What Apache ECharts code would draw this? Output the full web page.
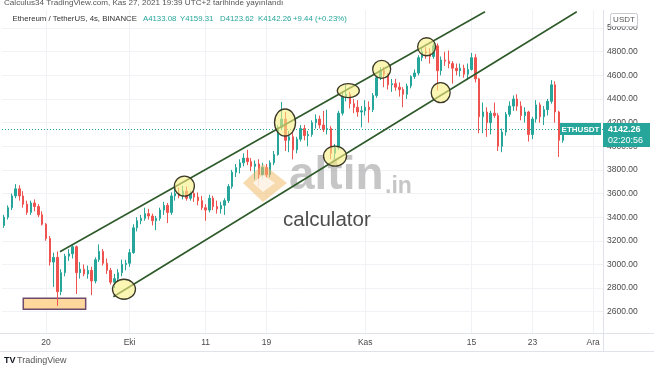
<!DOCTYPE html>
<html><head><meta charset="utf-8">
<script src="https://cdn.jsdelivr.net/npm/echarts@6/dist/echarts.min.js"></script>
<style>html,body{margin:0;padding:0;background:#fff;overflow:hidden}#c{width:654px;height:366px}</style>
</head><body><div id="c"></div>
<script>
// ---- data (12h candles, ETH/USDT) ----
const startTimeUTC = Date.UTC(2021, 8, 14, 12); // first candle open
const stepHours = 12;
const opens = [3330,
 3400,3480, 3580,3640, 3580,3510, 3440,3520, 3490,3420, 3340,3220, 3020,3060, 2770,2930, 3070,3090, 3150,2930, 2960,2920, 2950,2860, 3040,3110, 3010,2950, 2850,2880, 2930,3000,
 3010,3100, 3310,3370, 3390,3430, 3410,3370, 3390,3460, 3500,3440, 3580,3600, 3580,3620, 3560,3600, 3570,3540, 3480,3460, 3560,3490, 3470,3500, 3540,3660, 3780,3820, 3860,3900, 3870,3830, 3850,3760, 3820,3760, 3860,3930, 4160,4230, 4050,4080, 3970,4060, 4150,4090, 4100,4200, 4230,4180, 4140,4150, 3940,3990, 4280,4420, 4440,4360, 4330,4290,
 4300,4330, 4310,4430, 4580,4640, 4610,4520, 4530,4500, 4480,4440, 4510,4590, 4620,4750, 4800,4790, 4760,4850, 4640,4730, 4720,4700, 4660,4640, 4660,4610, 4650,4750, 4570,4250, 4290,4200, 4280,4260, 4000,4120, 4270,4340, 4400,4340, 4260,4290, 4100,4230, 4350,4250, 4310,4380, 4520,4290, 4050];
const closes = [3400,
 3480,3580, 3640,3580, 3510,3440, 3520,3490, 3420,3340, 3220,3020, 3060,2770, 2930,3070, 3090,3150, 2930,2960, 2920,2950, 2860,3040, 3110,3010, 2950,2850, 2880,2930, 3000,3010,
 3100,3310, 3370,3390, 3430,3410, 3370,3390, 3460,3500, 3440,3580, 3600,3580, 3620,3560, 3600,3570, 3540,3480, 3460,3560, 3490,3470, 3500,3540, 3660,3780, 3820,3860, 3900,3870, 3830,3850, 3760,3820, 3760,3860, 3930,4160, 4230,4050, 4080,3970, 4060,4150, 4090,4100, 4200,4230, 4180,4140, 4150,3940, 3990,4280, 4420,4440, 4360,4330, 4290,4300,
 4330,4310, 4430,4580, 4640,4610, 4520,4530, 4500,4480, 4440,4510, 4590,4620, 4750,4800, 4790,4760, 4850,4640, 4730,4720, 4700,4660, 4640,4660, 4610,4650, 4750,4570, 4250,4290, 4200,4280, 4260,4000, 4120,4270, 4340,4400, 4340,4260, 4290,4100, 4230,4350, 4250,4310, 4380,4520, 4290,4050, 4142.26];
const lows = [3310,
 3380,3460, 3560,3540, 3480,3420, 3420,3450, 3400,3330, 3200,2990, 2810,2650, 2740,2900, 3030,3050, 2750,2880, 2900,2880, 2740,2840, 3020,2990, 2920,2830, 2800,2850, 2900,2950,
 2980,3090, 3280,3340, 3370,3380, 3330,3290, 3370,3420, 3350,3420, 3540,3560, 3550,3540, 3540,3530, 3500,3460, 3370,3440, 3460,3430, 3430,3420, 3520,3640, 3740,3770, 3830,3840, 3790,3720, 3660,3720, 3730,3740, 3840,3920, 4140,3960, 3950,3890, 3940,4040, 4050,4000, 4080,4150, 4150,4120, 4100,3890, 3890,3970, 4260,4380, 4320,4280, 4250,4160,
 4260,4200, 4290,4410, 4560,4500, 4480,4460, 4470,4420, 4330,4400, 4490,4570, 4600,4720, 4740,4700, 4740,4470, 4600,4680, 4660,4530, 4600,4590, 4580,4560, 4640,4540, 4110,4110, 4080,4100, 4240,3960, 3950,4090, 4250,4300, 4300,4220, 4200,4040, 4060,4200, 4200,4180, 4260,4360, 4200,3910, 4030];
const highs = [3420,
 3500,3600, 3680,3670, 3620,3540, 3540,3550, 3510,3450, 3350,3240, 3100,3110, 2960,3090, 3130,3170, 3160,3020, 3000,2990, 2980,3060, 3170,3130, 3050,2970, 2920,2960, 3040,3040,
 3130,3340, 3400,3420, 3480,3470, 3430,3410, 3480,3530, 3520,3610, 3640,3650, 3665,3660, 3620,3620, 3610,3580, 3510,3590, 3580,3540, 3530,3560, 3680,3800, 3850,3890, 3940,3970, 3900,3880, 3890,3860, 3850,3880, 3960,4180, 4375,4290, 4130,4120, 4080,4180, 4180,4130, 4220,4270, 4260,4300, 4310,4170, 4020,4300, 4450,4520, 4460,4400, 4390,4340,
 4390,4380, 4450,4600, 4670,4670, 4620,4570, 4570,4540, 4500,4530, 4600,4650, 4770,4830, 4840,4830, 4870,4870, 4760,4800, 4810,4720, 4700,4700, 4690,4700, 4790,4780, 4580,4370, 4330,4300, 4370,4280, 4150,4290, 4380,4430, 4440,4380, 4330,4300, 4250,4390, 4370,4340, 4400,4560, 4550,4300, 4170];

const priceTicks = [2600,2800,3000,3200,3400,3600,3800,4000,4200,4400,4600,4800,5000];
const dateTicks = ['2021-09-20','2021-10-01','2021-10-11','2021-10-19','2021-11-01','2021-11-15','2021-11-23','2021-12-01'];
const dateLabels = ['20','Eki','11','19','Kas','15','23','Ara'];
const lastPrice = 4142.26;
const countdown = '02:20:56';
const symbolName = 'ETHUSDT';
// drawn annotations (time, price)
const upperChannel = [['2021-09-21T20:00:00Z', 3108], ['2021-11-16T18:15:00Z', 5138]];
const lowerChannel = [['2021-09-28T20:40:00Z', 2727], ['2021-11-28T20:00:00Z', 5138]];
const circleCenters = [['2021-09-30T06:15:00Z',2790],['2021-10-08T05:00:00Z',3663],['2021-10-21T10:50:00Z',4201],['2021-10-28T00:45:00Z',3917],['2021-10-29T18:40:00Z',4470],['2021-11-03T04:00:00Z',4651],['2021-11-09T02:00:00Z',4842],['2021-11-10T22:20:00Z',4454]];
const circleRadii = [[11.5,10],[10,10],[10.5,13.5],[11.5,10],[11,7],[9,9],[9,9],[9.5,10]];
const supportBox = [['2021-09-17T00:15:00Z', 2713], ['2021-09-25T05:15:00Z', 2620]];

// ---- build ----
const DAY = 86400000;
const ts = s => new Date(s).getTime();
const candles = opens.map((o, i) => [startTimeUTC + i * stepHours * 3600000, o, closes[i], lows[i], highs[i]]);
const dateTickMs = dateTicks.map(d => ts(d + 'T00:00:00Z'));
const sep20 = ts('2021-09-20T00:00:00Z');
const xMin = sep20 - (44 / 7.6) * DAY;
const xMax = sep20 + (557 / 7.6) * DAY;

const FONT = '"Liberation Sans", Arial, sans-serif';
const chart = echarts.init(document.getElementById('c'), null, {renderer: 'canvas'});
chart.setOption({
  animation: false,
  backgroundColor: '#ffffff',
  grid: {left: 2, right: 51, top: 10, bottom: 33},
  xAxis: {
    type: 'value', min: xMin, max: xMax, scale: true,
    axisLine: {show: false},
    axisTick: {show: false, customValues: dateTickMs},
    axisLabel: {customValues: dateTickMs, color: '#4a4a4a', fontSize: 8.5, fontFamily: FONT, margin: 5,
      formatter: v => { const i = dateTickMs.indexOf(v); return i >= 0 ? dateLabels[i] : ''; }},
    splitLine: {show: true, lineStyle: {color: '#f0f2f6', width: 1}}
  },
  yAxis: {
    type: 'value', position: 'right', min: 2420, max: 5153, scale: true,
    axisLine: {show: false},
    axisTick: {show: false, customValues: priceTicks},
    axisLabel: {customValues: priceTicks, color: '#4a4a4a', fontSize: 8.5, fontFamily: FONT, margin: 4,
      formatter: v => v.toFixed(2)},
    splitLine: {show: true, lineStyle: {color: '#f0f2f6', width: 1}}
  },
  series: [{
    type: 'candlestick',
    data: candles,
    encode: {x: 0, y: [1, 2, 3, 4]},
    barWidth: 2,
    itemStyle: {color: '#26a69a', color0: '#ef5350', borderColor: '#26a69a', borderColor0: '#ef5350', borderWidth: 1},
    markArea: {
      silent: true,
      itemStyle: {color: '#fdd79b', borderColor: '#6d4b6d', borderWidth: 1.5},
      data: [[{coord: [ts(supportBox[0][0]), supportBox[0][1]]}, {coord: [ts(supportBox[1][0]), supportBox[1][1]]}]]
    },
    markLine: {
      silent: true, symbol: ['none', 'none'], label: {show: false},
      data: [
        {yAxis: lastPrice, lineStyle: {type: [1, 2], color: '#26a69a', width: 1}},
        [{coord: [ts(upperChannel[0][0]), upperChannel[0][1]], lineStyle: {type: 'solid', color: '#2e5a2a', width: 1.6}},
         {coord: [ts(upperChannel[1][0]), upperChannel[1][1]]}],
        [{coord: [ts(lowerChannel[0][0]), lowerChannel[0][1]], lineStyle: {type: 'solid', color: '#2e5a2a', width: 1.6}},
         {coord: [ts(lowerChannel[1][0]), lowerChannel[1][1]]}]
      ]
    }
  }]
});

// ---- overlay graphics positioned from data ----
const g = [];
circleCenters.forEach((c, i) => {
  const p = chart.convertToPixel({gridIndex: 0}, [ts(c[0]), c[1]]);
  g.push({type: 'ellipse', z: 20, shape: {cx: p[0], cy: p[1], rx: circleRadii[i][0], ry: circleRadii[i][1]},
    style: {fill: 'rgba(250,240,130,0.6)', stroke: '#3b3a28', lineWidth: 1.3}});
});
const py = chart.convertToPixel({gridIndex: 0}, [xMin, lastPrice])[1];
g.push({type: 'rect', z: 30, shape: {x: 560, y: py - 6.5, width: 41, height: 12}, style: {fill: '#26a69a'}});
g.push({type: 'text', z: 31, x: 580.5, y: py, style: {text: symbolName, fill: '#fff', font: 'bold 8px ' + FONT, align: 'center', verticalAlign: 'middle'}});
g.push({type: 'rect', z: 30, shape: {x: 603, y: py - 6.5, width: 47, height: 24}, style: {fill: '#26a69a'}});
g.push({type: 'text', z: 31, x: 608, y: py, style: {text: lastPrice.toFixed(2), fill: '#fff', font: 'bold 9px ' + FONT, align: 'left', verticalAlign: 'middle'}});
g.push({type: 'text', z: 31, x: 608, y: py + 11, style: {text: countdown, fill: '#fff', font: '9px ' + FONT, align: 'left', verticalAlign: 'middle'}});

// frame lines
g.push({type: 'line', z: 5, shape: {x1: 0, y1: 333.5, x2: 654, y2: 333.5}, style: {stroke: '#dfe2e8', lineWidth: 1}});
g.push({type: 'line', z: 5, shape: {x1: 0, y1: 351.5, x2: 654, y2: 351.5}, style: {stroke: '#dfe2e8', lineWidth: 1}});
g.push({type: 'line', z: 5, shape: {x1: 603.5, y1: 10, x2: 603.5, y2: 352}, style: {stroke: '#dfe2e8', lineWidth: 1}});

// header
g.push({type: 'text', z: 40, x: 4, y: 2.5, style: {text: 'Calculus34 TradingView.com, Kas 27, 2021 19:39 UTC+2 tarihinde yayınlandı', fill: '#555', font: '8.1px ' + FONT, verticalAlign: 'middle'}});
const hdr = [['Ethereum / TetherUS, 4s, BINANCE', 12.5, '#333'], ['A4133.08', 143, '#26a69a'], ['Y4159.31', 180, '#26a69a'], ['D4123.62', 220, '#26a69a'], ['K4142.26', 258, '#26a69a'], ['+9.44 (+0.23%)', 293, '#26a69a']];
hdr.forEach(h => g.push({type: 'text', z: 40, x: h[1], y: 19, style: {text: h[0], fill: h[2], font: '7.8px ' + FONT, verticalAlign: 'middle'}}));

// USDT box
g.push({type: 'rect', z: 40, shape: {x: 610.5, y: 13.5, width: 27, height: 13, r: 2}, style: {fill: '#fff', stroke: '#c8cad0', lineWidth: 1}});
g.push({type: 'text', z: 41, x: 624, y: 20, style: {text: 'USDT', fill: '#555', font: '8px ' + FONT, align: 'center', verticalAlign: 'middle'}});

// watermark
g.push({type: 'polygon', z: 3, shape: {points: [[263, 164], [287, 183], [263, 202], [243, 183]]}, style: {fill: 'rgba(240,190,110,0.55)'}});
g.push({type: 'polygon', z: 3, shape: {points: [[263, 175], [275, 183], [263, 192], [253, 183]]}, style: {fill: 'rgba(255,255,255,0.7)'}});
g.push({type: 'text', z: 3, x: 289, y: 199, style: {text: 'altin', fill: 'rgba(160,160,160,0.6)', font: 'bold 46px ' + FONT, verticalAlign: 'bottom'}});
g.push({type: 'text', z: 3, x: 385, y: 198, style: {text: '.in', fill: 'rgba(160,160,160,0.6)', font: 'bold 23px ' + FONT, verticalAlign: 'bottom'}});
g.push({type: 'text', z: 3, x: 283, y: 220, style: {text: 'calculator', fill: '#4d4d4d', font: '20.5px ' + FONT, verticalAlign: 'middle'}});

// footer
g.push({type: 'text', z: 40, x: 4, y: 361, style: {text: 'TV', fill: '#131722', font: 'bold 9px ' + FONT, verticalAlign: 'middle'}});
g.push({type: 'text', z: 40, x: 17, y: 361, style: {text: 'TradingView', fill: '#555', font: '9px ' + FONT, verticalAlign: 'middle'}});

chart.setOption({graphic: g});
</script>
</body></html>
